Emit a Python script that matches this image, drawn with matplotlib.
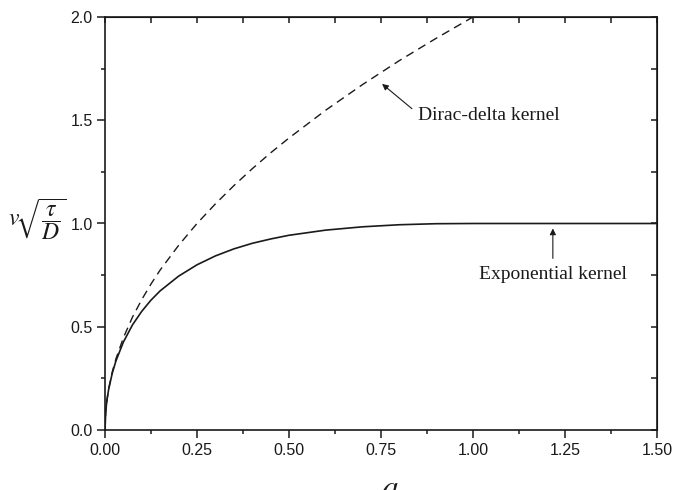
import matplotlib
matplotlib.use("Agg")
import matplotlib.pyplot as plt
from matplotlib.ticker import MultipleLocator

plt.rcParams["mathtext.fontset"] = "stix"
plt.rcParams["font.family"] = ["Liberation Sans", "DejaVu Sans"]

# Front speed for the exponential memory kernel
a_exp = [0.0, 0.002, 0.005, 0.01, 0.02, 0.03, 0.05, 0.075, 0.1, 0.125, 0.15,
         0.2, 0.25, 0.3, 0.35, 0.4, 0.45, 0.5, 0.6, 0.7, 0.8, 0.9, 1.0, 1.5]
v_exp = [0.0, 0.089, 0.141, 0.198, 0.277, 0.336, 0.426, 0.510, 0.575, 0.629, 0.674,
         0.745, 0.800, 0.843, 0.877, 0.904, 0.925, 0.943, 0.968, 0.984, 0.994, 0.999, 1.0, 1.0]

# Front speed for the Dirac-delta kernel
a_dir = [0.0, 0.002, 0.005, 0.01, 0.02, 0.03, 0.05, 0.075, 0.1, 0.125, 0.15,
         0.2, 0.25, 0.3, 0.35, 0.4, 0.45, 0.5, 0.6, 0.7, 0.8, 0.9, 1.0]
v_dir = [0.0, 0.089, 0.141, 0.200, 0.283, 0.346, 0.447, 0.548, 0.632, 0.707, 0.775,
         0.894, 1.000, 1.095, 1.183, 1.265, 1.342, 1.414, 1.549, 1.673, 1.789, 1.897, 2.0]

x_ticks = [0.0, 0.25, 0.5, 0.75, 1.0, 1.25, 1.5]
x_tick_labels = ["0.00", "0.25", "0.50", "0.75", "1.00", "1.25", "1.50"]
y_ticks = [0.0, 0.5, 1.0, 1.5, 2.0]
y_tick_labels = ["0.0", "0.5", "1.0", "1.5", "2.0"]

ink = "#1a1a1a"

fig = plt.figure(figsize=(6.75, 4.9), dpi=100)
ax = fig.add_axes([105 / 675, 60 / 490, 552 / 675, 413 / 490])

ax.plot(a_exp, v_exp, color=ink, lw=1.2, solid_capstyle="butt")
ax.plot(a_dir, v_dir, color=ink, lw=1.0, linestyle=(0, (6, 4)), clip_on=True)

ax.set_xlim(0, 1.5)
ax.set_ylim(0, 2.0)
ax.set_xticks(x_ticks)
ax.set_xticklabels(x_tick_labels)
ax.set_yticks(y_ticks)
ax.set_yticklabels(y_tick_labels)
ax.xaxis.set_minor_locator(MultipleLocator(0.125))
ax.yaxis.set_minor_locator(MultipleLocator(0.25))
ax.tick_params(which="major", direction="out", length=6, width=1.1,
               labelsize=11.5, colors=ink, pad=3)
ax.tick_params(which="minor", direction="out", length=3, width=1.1, colors=ink)

for s in ax.spines.values():
    s.set_linewidth(1.2)
    s.set_color(ink)

# inward ticks on the top and right frame edges
top = ax.secondary_xaxis("top")
top.set_xticks([i * 0.125 for i in range(13)])
top.tick_params(direction="in", length=4, width=1.1, labeltop=False, colors=ink)
right = ax.secondary_yaxis("right")
right.set_yticks([i * 0.25 for i in range(9)])
right.tick_params(direction="in", length=4, width=1.1, labelright=False, colors=ink)

# axis labels
fig.text(8 / 675, 1 - 220 / 490, r"$v\!\sqrt{\dfrac{\tau}{D}}$", fontsize=17,
         ha="left", va="center", color=ink)
fig.text(390 / 675, 1 - 474 / 490, r"$a$", fontsize=24,
         ha="center", va="top", color=ink)

# annotations
arrow = dict(arrowstyle="-|>", lw=0.8, color=ink, mutation_scale=9,
             shrinkA=0, shrinkB=0)
ax.annotate("", xy=(0.753, 1.676), xytext=(0.834, 1.556), arrowprops=arrow)
ax.text(0.851, 1.522, "Dirac-delta kernel", fontsize=14, ha="left", va="center",
        family=["Liberation Serif", "DejaVu Serif"], color=ink)
ax.annotate("", xy=(1.217, 0.976), xytext=(1.217, 0.831), arrowprops=arrow)
ax.text(1.217, 0.754, "Exponential kernel", fontsize=14, ha="center", va="center",
        family=["Liberation Serif", "DejaVu Serif"], color=ink)

fig.savefig("out.png", dpi=100)
